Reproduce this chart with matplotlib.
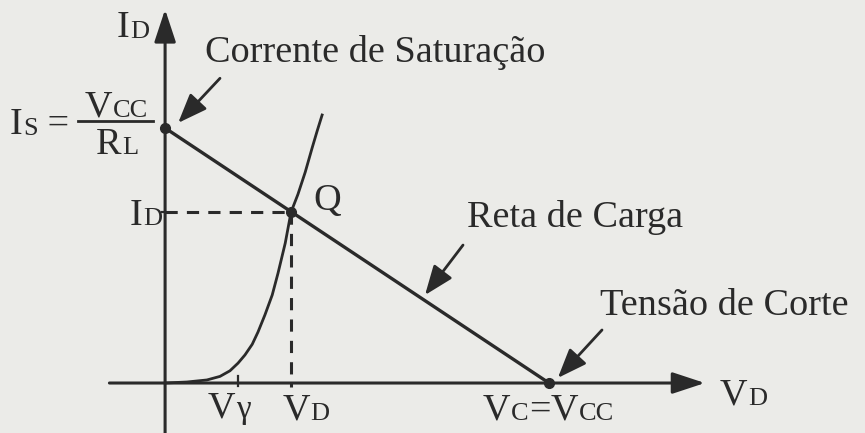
import matplotlib.pyplot as plt

# diagram units: Vcc = 10, Is = Vcc/RL = 10
vcc = 10.0
i_sat = 10.0
q_point = (3.28, 6.72)
v_gamma = 1.9

# diode characteristic
diode_v = [0.0, 0.57, 1.09, 1.43, 1.69, 1.90, 2.08, 2.27, 2.42, 2.60, 2.79,
           2.94, 3.13, 3.28, 3.46, 3.65, 3.83, 3.96, 4.09]
diode_i = [0.0, 0.04, 0.12, 0.26, 0.48, 0.78, 1.10, 1.52, 2.00, 2.67, 3.45,
           4.30, 5.49, 6.70, 7.40, 8.27, 9.22, 9.88, 10.51]

load_v = [0.0, vcc]
load_i = [i_sat, 0.0]

ink = '#2a2a2a'
bg = '#ebebe8'
font = 'Liberation Serif'
big = 27.5
small = 19

fig = plt.figure(figsize=(8.65, 4.33), dpi=100, facecolor=bg)
ax = fig.add_axes([0, 0, 1, 1])
ax.set_facecolor(bg)
ax.set_xlim(-4.30, 18.23)
ax.set_ylim(-1.96, 15.02)
ax.axis('off')

axis_arrow = dict(arrowstyle='-|>,head_length=1.0,head_width=0.33',
                  mutation_scale=20, lw=2.2, color=ink, shrinkA=0, shrinkB=0)
ax.annotate('', xy=(0, 14.65), xytext=(0, -2.0), arrowprops=axis_arrow)
ax.annotate('', xy=(14.06, 0), xytext=(-1.45, 0), arrowprops=axis_arrow)

# ticks
ax.plot([v_gamma, v_gamma], [-0.1, 0.28], color=ink, lw=1.6)
ax.plot([-0.08, 0], [q_point[1], q_point[1]], color=ink, lw=1.6)

# load line and diode curve
ax.plot(load_v, load_i, color=ink, lw=2.4, solid_capstyle='round')
ax.plot(diode_v, diode_i, color=ink, lw=2.0, solid_joinstyle='round')

# projections of Q
ax.plot([0, q_point[0]], [q_point[1], q_point[1]], color=ink, lw=2.2,
        dashes=(4, 3))
ax.plot([q_point[0], q_point[0]], [q_point[1], -0.15], color=ink, lw=2.2,
        dashes=(4, 3))

ax.plot([0, q_point[0], vcc], [i_sat, q_point[1], 0], 'o', color=ink, ms=7)


def label(x, y, parts, **kw):
    # parts: list of (text, size); drawn side by side on one baseline
    prev = None
    for txt, size in parts:
        if prev is None:
            prev = ax.text(x, y, txt, fontsize=size, family=font, color=ink,
                           va='baseline', ha='left', **kw)
        else:
            prev = ax.annotate(txt, xy=(1, 0), xycoords=prev,
                               xytext=(0.5, 0.217 * (prev.get_fontsize() - size)),
                               textcoords='offset points', fontsize=size,
                               family=font, color=ink, va='bottom', ha='left')
    return prev


label(-1.25, 13.55, [('I', big), ('D', small)])
label(1.04, 12.6, [('Corrente de Saturação', big)])
label(-4.05, 9.75, [('I', big), ('S', small), (' =', big)])
label(-2.10, 10.45, [('V', big), ('CC', small)])
ax.plot([-2.28, -0.32], [10.27, 10.27], color=ink, lw=2.0)
label(-1.80, 9.0, [('R', big), ('L', small)])
label(-0.92, 6.2, [('I', big), ('D', small)])
label(3.85, 6.78, [('Q', big)])
label(7.86, 6.1, [('Reta de Carga', big)])
label(11.33, 2.67, [('Tensão de Corte', big)])
label(1.12, -1.37, [('V', big), ('γ', 24)])
label(3.05, -1.45, [('V', big), ('D', small)])
label(8.26, -1.45, [('V', big), ('C', small), ('=', big), ('V', big), ('CC', small)])
label(14.45, -0.86, [('V', big), ('D', small)])

note_arrow = dict(arrowstyle='-|>,head_length=0.9,head_width=0.35',
                  mutation_scale=20, lw=2.0, color=ink, shrinkA=0, shrinkB=0)
ax.annotate('', xy=(0.34, 10.2), xytext=(1.43, 11.95), arrowprops=note_arrow)
ax.annotate('', xy=(6.77, 3.45), xytext=(7.76, 5.41), arrowprops=note_arrow)
ax.annotate('', xy=(10.23, 0.2), xytext=(11.38, 2.08), arrowprops=note_arrow)

fig.savefig('out.png', dpi=100, facecolor=bg)
